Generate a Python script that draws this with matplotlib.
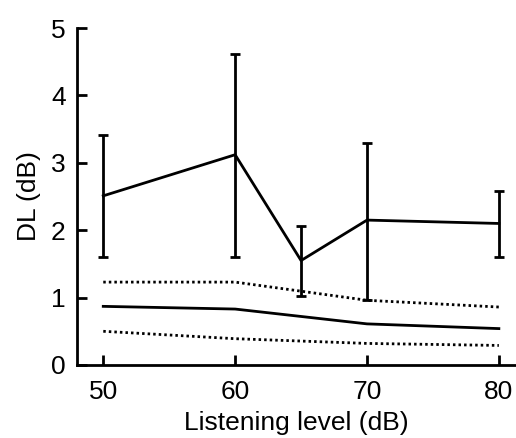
import matplotlib
matplotlib.use("Agg")
import matplotlib.pyplot as plt
import numpy as np

plt.rcParams['font.family'] = ['Liberation Sans', 'DejaVu Sans']

# Measured DL with asymmetric error bars
levels = [50, 60, 65, 70, 80]
dl_mean = [2.51, 3.12, 1.55, 2.15, 2.10]
err_top = [3.41, 4.61, 2.06, 3.30, 2.58]
err_bottom = [1.60, 1.60, 1.02, 0.97, 1.60]

# Model prediction (solid) and bounds (dotted)
model_levels = [50, 60, 70, 80]
model_mean = [0.87, 0.83, 0.61, 0.54]
model_upper = [1.23, 1.23, 0.96, 0.86]
model_lower = [0.50, 0.39, 0.32, 0.29]

xticks = [50, 60, 70, 80]
yticks = [0, 1, 2, 3, 4, 5]

fig = plt.figure(figsize=(5.16, 4.38), dpi=100)
ax = fig.add_axes([0.149, 0.1667, 0.851, 0.7693])

LW = 2.0
lower_err = np.array(dl_mean) - np.array(err_bottom)
upper_err = np.array(err_top) - np.array(dl_mean)
ax.errorbar(levels, dl_mean, yerr=[lower_err, upper_err], color='black',
            lw=LW, elinewidth=LW, capsize=3.6, capthick=LW)
ax.plot(model_levels, model_mean, color='black', lw=LW)
ax.plot(model_levels, model_upper, color='black', lw=LW, ls=(0, (0.9, 1.1)))
ax.plot(model_levels, model_lower, color='black', lw=LW, ls=(0, (0.9, 1.1)))

ax.set_xlim(48, 81.3)
ax.set_ylim(0, 5)
ax.set_xticks(xticks)
ax.set_yticks(yticks)
for s in ['top', 'right']:
    ax.spines[s].set_visible(False)
for s in ['left', 'bottom']:
    ax.spines[s].set_linewidth(LW)
ax.tick_params(direction='in', length=7.5, width=LW, labelsize=19)
ax.tick_params(axis='x', pad=11)
ax.tick_params(axis='y', pad=8)
ax.set_xlabel('Listening level (dB)', fontsize=19, labelpad=5)
ax.set_ylabel('DL (dB)', fontsize=19, labelpad=7)

fig.savefig('out.png', dpi=100)
